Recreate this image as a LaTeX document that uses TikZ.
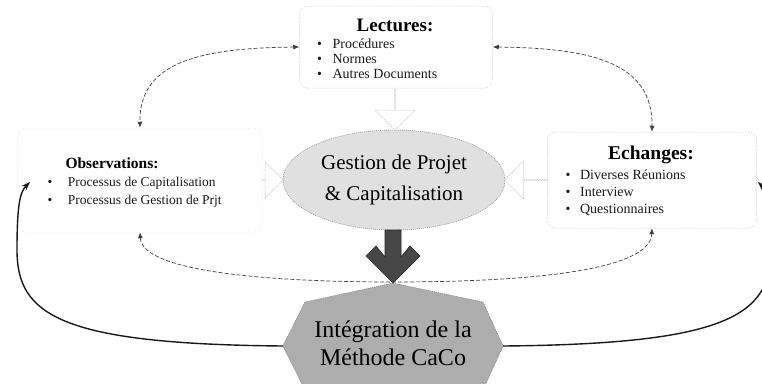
\documentclass[tikz,border=0pt]{standalone}
\usepackage{fontspec}
\setmainfont{Liberation Serif}
\usetikzlibrary{shapes.geometric,shapes.arrows,arrows.meta,calc,backgrounds}

\tikzset{
  infobox/.style={draw=black!25, line width=0.5pt, dash pattern=on 1pt off 1.5pt,
    rounded corners=8pt, inner sep=0pt},
  ttl/.style={font=\bfseries\fontsize{19}{22}\selectfont, text=black, inner sep=0pt},
  itm/.style={anchor=base west, inner sep=0pt, text=black!90,
    font=\fontsize{14}{15}\selectfont},
  harrow/.style={single arrow, draw=black!25, line width=0.5pt,
    dash pattern=on 1.5pt off 1pt, inner sep=0pt},
  dflow/.style={{Latex[length=6pt,width=5pt]}-{Latex[length=6pt,width=5pt]},
    draw=black!75, line width=0.7pt, dash pattern=on 4pt off 2pt},
  loopback/.style={-{Stealth[length=9pt,width=6.5pt]}, line width=1.4pt, draw=black!90},
}

\begin{document}
\begin{tikzpicture}[x=1pt,y=-1pt]
\useasboundingbox (0,0) rectangle (762,383);

% source boxes
\node[infobox, minimum width=193, minimum height=82] (lect) at (396,47) {};
\node[infobox, draw=black!12, minimum width=244, minimum height=104] (obs) at (140,180) {};
\node[infobox, minimum width=209, minimum height=96] (ech) at (652,180) {};

% titles
\node[ttl] (lectT) at (395,25) {Lectures:};
\node[ttl, font=\bfseries\fontsize{15.5}{18}\selectfont] (obsT) at (112,163) {Observations:};
\node[ttl, font=\bfseries\fontsize{19.5}{22}\selectfont] (echT) at (651,155) {Echanges:};

% bullet lists
\node[itm] (lectA) at (317,48) {\textbullet\hspace{10.5pt}Procédures};
\node[itm] (lectB) at (317,63) {\textbullet\hspace{10.5pt}Normes};
\node[itm] (lectC) at (317,78) {\textbullet\hspace{10.5pt}Autres Documents};

\node[itm, font=\fontsize{13.5}{15}\selectfont] (obsA) at (47.5,186) {\textbullet\hspace{15.5pt}Processus de Capitalisation};
\node[itm, font=\fontsize{13.5}{15}\selectfont] (obsB) at (47.5,204) {\textbullet\hspace{15.5pt}Processus de Gestion de Prjt};

\node[itm] (echA) at (565.5,179) {\textbullet\hspace{9.5pt}Diverses Réunions};
\node[itm] (echB) at (565.5,196) {\textbullet\hspace{9.5pt}Interview};
\node[itm] (echC) at (565.5,213) {\textbullet\hspace{9.5pt}Questionnaires};

% central ellipse
\node[ellipse, draw=black!55, dash pattern=on 1pt off 1pt, fill=black!12,
  minimum width=222, minimum height=100, inner sep=0pt, align=center,
  font=\fontsize{21}{31}\selectfont, text=black] (gest) at (394,180)
  {Gestion de Projet\\\& Capitalisation};

% final step
\node[minimum width=220, minimum height=80, inner sep=0pt, align=center,
  font=\fontsize{24}{28}\selectfont, text=black] (integ) at (393,343)
  {Intégration de la\\Méthode CaCo};
\begin{scope}[on background layer]
  \draw[fill=black!32, draw=black!55, dash pattern=on 1pt off 1pt]
    ($(integ.center)+(0,-60)$) -- ($(integ.center)+(90,-41)$)
    -- ($(integ.east)+(0,3)$) -- ($(integ.center)+(90,47)$)
    -- ($(integ.center)+(-88,47)$) -- ($(integ.west)+(0,3)$)
    -- ($(integ.center)+(-88,-41)$) -- cycle;
\end{scope}

% hollow arrows into the ellipse
\node[harrow, shape border rotate=270, minimum height=42, minimum width=40,
  single arrow head extend=12pt] (hTop) at ($(lect.south)!0.5!(gest.north)$) {};
\node[harrow, shape border rotate=180, minimum height=43, minimum width=38,
  single arrow head extend=11pt] (hRight) at ($(ech.west)!0.5!(gest.east)$) {};
\node[harrow, shape border rotate=0, minimum height=21, minimum width=36,
  single arrow head extend=12pt] (hLeft) at ($(obs.east)!0.5!(gest.west)$) {};

% thick arrow down to the final step
\coordinate (tip) at ($(integ.center)+(0,-60)$);
\filldraw[fill=black!72, draw=black!85, line width=0.6pt]
  ($(tip)+(-8,-53)$) -- ($(tip)+(8,-53)$) -- ($(tip)+(8,-26)$) -- ($(tip)+(17,-37)$)
  -- ($(tip)+(27,-27)$) -- (tip) -- ($(tip)+(-27,-27)$) -- ($(tip)+(-17,-37)$)
  -- ($(tip)+(-8,-26)$) -- cycle;

% dashed exchanges between sources
\draw[dflow] (lect.west) .. controls (200,48) and (139,62) .. (obs.north);
\draw[dflow] (lect.east) .. controls (590,48) and (653,62) .. (ech.north);
\coordinate (low) at (394,282);
\draw[dflow] (obs.south) .. controls (142,272) and (270,282) .. (low)
  .. controls (520,282) and (650,272) .. (ech.south);

% feedback loops
\coordinate (obsIn) at (30,182);
\coordinate (echIn) at (758,182);
\draw[loopback] ($(integ.west)+(0,3)$) .. controls (60,344) and (17,315) .. (17,250)
  .. controls (17,205) and (20,192) .. (obsIn);
\draw[loopback] ($(integ.east)+(0,3)$) .. controls (728,344) and (771,315) .. (771,250)
  .. controls (771,205) and (768,192) .. (echIn);
\end{tikzpicture}
\end{document}
